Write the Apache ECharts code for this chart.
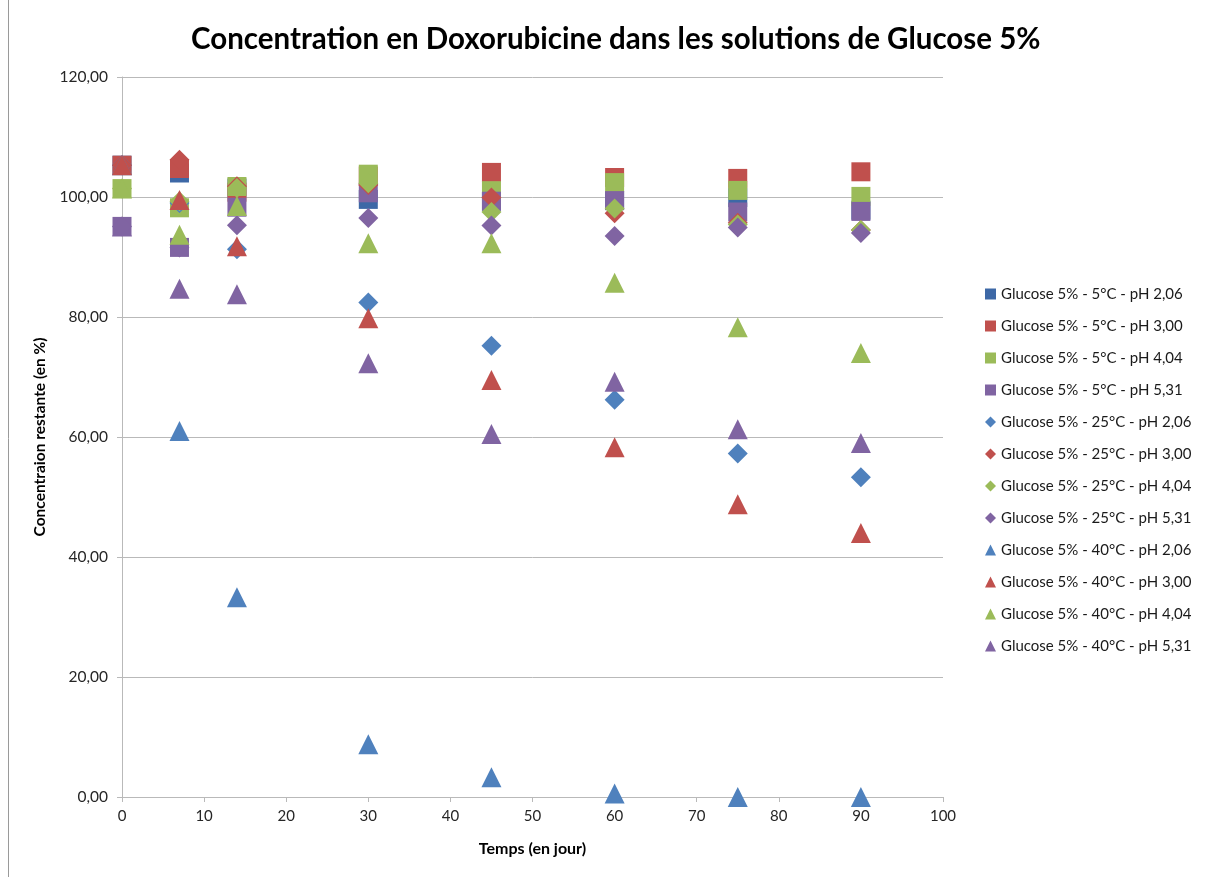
<!DOCTYPE html>
<html>
<head>
<meta charset="utf-8">
<title>Concentration en Doxorubicine dans les solutions de Glucose 5%</title>
<script src="https://cdn.jsdelivr.net/npm/echarts@6/dist/echarts.min.js"></script>
<style>
  html, body { margin: 0; padding: 0; background: #ffffff; }
  #chart { width: 1205px; height: 877px; }
</style>
</head>
<body>
<div id="chart"></div>
<script>
// Sampling days
const days = [0, 7, 14, 30, 45, 60, 75, 90];

// Remaining concentration (%) per storage temperature and pH
const t5_ph206  = [105.3, 104.0, 101.5, 99.6, 99.3, 99.4, 99.9, 97.8];
const t5_ph300  = [105.3, 104.75, 100.8, 103.5, 104.1, 103.25, 103.1, 104.2];
const t5_ph404  = [101.4, 98.2, 101.75, 103.8, 101.05, 102.4, 101.1, 100.1];
const t5_ph531  = [95.1, 91.6, 98.3, 100.7, 99.3, 99.4, 97.5, 97.6];

const t25_ph206 = [105.3, 99.0, 91.3, 82.4, 75.2, 66.2, 57.25, 53.3];
const t25_ph300 = [105.3, 106.2, 101.8, 102.0, 99.9, 97.3, 95.7, 94.5];
const t25_ph404 = [101.4, 99.3, 101.5, 102.3, 97.5, 98.1, 95.4, 94.5];
const t25_ph531 = [95.1, 91.6, 95.3, 96.5, 95.25, 93.5, 94.9, 94.0];

const t40_ph206 = [105.3, 61.0, 33.3, 8.8, 3.3, 0.6, 0, 0];
const t40_ph300 = [105.3, 99.5, 91.8, 79.8, 69.5, 58.3, 48.8, 44.0];
const t40_ph404 = [101.4, 93.7, 98.5, 92.3, 92.3, 85.7, 78.3, 74.0];
const t40_ph531 = [95.1, 84.7, 83.8, 72.3, 60.5, 69.2, 61.3, 59.0];

const seriesNames = [
  'Glucose 5% - 5°C - pH 2,06',
  'Glucose 5% - 5°C - pH 3,00',
  'Glucose 5% - 5°C - pH 4,04',
  'Glucose 5% - 5°C - pH 5,31',
  'Glucose 5% - 25°C - pH 2,06',
  'Glucose 5% - 25°C - pH 3,00',
  'Glucose 5% - 25°C - pH 4,04',
  'Glucose 5% - 25°C - pH 5,31',
  'Glucose 5% - 40°C - pH 2,06',
  'Glucose 5% - 40°C - pH 3,00',
  'Glucose 5% - 40°C - pH 4,04',
  'Glucose 5% - 40°C - pH 5,31'
];
const seriesValues = [
  t5_ph206, t5_ph300, t5_ph404, t5_ph531,
  t25_ph206, t25_ph300, t25_ph404, t25_ph531,
  t40_ph206, t40_ph300, t40_ph404, t40_ph531
];

// Axis ticks
const xTicks = { min: 0, max: 100, interval: 10 };
const yTicks = { min: 0, max: 120, interval: 20 };

// Styling per series: colour by pH, marker by temperature
const phColors = ['#4F81BD', '#C0504D', '#9BBB59', '#8064A2'];
const squareBlue = '#3D68A6';
const markers = [
  { symbol: 'rect', size: 19 },
  { symbol: 'diamond', size: 20 },
  { symbol: 'triangle', size: 20 }
];

const FONT = 'Lato, "Open Sans", sans-serif';
const textColor = '#262626';
const gridColor = '#B9B9B9';

const series = seriesValues.map((vals, i) => {
  const group = Math.floor(i / 4);
  const ph = i % 4;
  const color = (group === 0 && ph === 0) ? squareBlue : phColors[ph];
  return {
    name: seriesNames[i],
    type: 'scatter',
    symbol: markers[group].symbol,
    symbolSize: markers[group].size,
    itemStyle: { color: color, opacity: 1 },
    emphasis: { disabled: true },
    data: days.map((d, k) => [d, vals[k]])
  };
});

const chart = echarts.init(document.getElementById('chart'), null, { renderer: 'canvas' });
chart.setOption({
  animation: false,
  backgroundColor: '#ffffff',
  title: {
    text: 'Concentration en Doxorubicine dans les solutions de Glucose 5%',
    left: 186,
    top: 19,
    textStyle: { fontFamily: FONT, fontSize: 29.5, fontWeight: 'bold', color: '#000000' }
  },
  legend: {
    orient: 'vertical',
    left: 980,
    top: 281,
    itemWidth: 11,
    itemHeight: 11,
    itemGap: 16,
    textStyle: { fontFamily: FONT, fontSize: 15, color: '#1a1a1a', lineHeight: 16 },
    data: seriesNames
  },
  grid: { left: 122, top: 77, right: 262, bottom: 80, containLabel: false },
  xAxis: {
    type: 'value',
    min: xTicks.min,
    max: xTicks.max,
    interval: xTicks.interval,
    name: 'Temps (en jour)',
    nameLocation: 'middle',
    nameGap: 44,
    nameTextStyle: { fontFamily: FONT, fontSize: 16, fontWeight: 'bold', color: '#000000' },
    axisLine: { show: true, lineStyle: { color: gridColor, width: 1 } },
    axisTick: { show: true, inside: false, length: 5, lineStyle: { color: gridColor } },
    axisLabel: { margin: 12, fontFamily: FONT, fontSize: 15, color: textColor },
    splitLine: { show: false }
  },
  yAxis: {
    type: 'value',
    min: yTicks.min,
    max: yTicks.max,
    interval: yTicks.interval,
    name: 'Concentraion restante (en %)',
    nameLocation: 'middle',
    nameGap: 74,
    nameTextStyle: { fontFamily: FONT, fontSize: 15.5, fontWeight: 'bold', color: '#000000' },
    axisLine: { show: true, lineStyle: { color: gridColor, width: 1 } },
    axisTick: { show: true, inside: false, length: 5, lineStyle: { color: gridColor } },
    axisLabel: {
      margin: 14,
      fontFamily: FONT,
      fontSize: 15.5,
      color: textColor,
      formatter: v => v.toFixed(2).replace('.', ',')
    },
    splitLine: { show: true, lineStyle: { color: gridColor, width: 1 } }
  },
  graphic: [
    {
      type: 'line',
      silent: true,
      shape: { x1: 8.5, y1: 0, x2: 8.5, y2: 877 },
      style: { stroke: '#9a9a9a', lineWidth: 1 }
    }
  ],
  series: series
});
</script>
</body>
</html>
